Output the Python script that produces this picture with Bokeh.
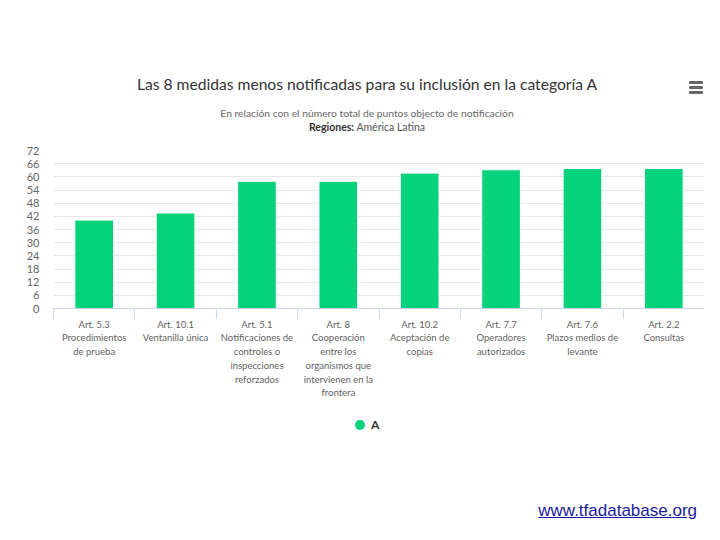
from bokeh.plotting import figure
from bokeh.models import Range1d, FixedTicker, ColumnDataSource, Div
from bokeh.layouts import column
from bokeh.embed import file_html
from bokeh.resources import INLINE

# ---- data ----
categories = [
    "Art. 5.3\nProcedimientos\nde prueba",
    "Art. 10.1\nVentanilla única",
    "Art. 5.1\nNotificaciones de\ncontroles o\ninspecciones\nreforzados",
    "Art. 8\nCooperación\nentre los\norganismos que\nintervienen en la\nfrontera",
    "Art. 10.2\nAceptación de\ncopias",
    "Art. 7.7\nOperadores\nautorizados",
    "Art. 7.6\nPlazos medios de\nlevante",
    "Art. 2.2\nConsultas",
]
values_A = [40.3, 43.5, 58.0, 58.0, 61.7, 63.2, 63.8, 63.8]
y_ticks = [0, 6, 12, 18, 24, 30, 36, 42, 48, 54, 60, 66, 72]
series_name = "A"

title_text = "Las 8 medidas menos notificadas para su inclusión en la categoría A"
subtitle_text = "En relación con el número total de puntos objecto de notificación"
region_label = "Regiones:"
region_value = "América Latina"
link_text = "www.tfadatabase.org"

FONT = "Lato"
GREEN = "#06d27c"

W = 704
TOP_H = 140
FIG_BOTTOM = 412
FIG_H = FIG_BOTTOM - TOP_H
BOT_H = 524 - FIG_BOTTOM
# frame in page coords: x 53..704, y 150..308
FL, FR, FT, FB = 53, 704, 150, 308
n = len(categories)
ymax = 72

# ---- header (titles + menu icon) ----
menu = "".join(
    f'<div style="position:absolute;left:689px;top:{t}px;width:14px;height:3px;'
    f'background:#666;border-radius:1px;"></div>' for t in (80.5, 85.5, 90.5))
header_html = f"""
<div style="position:relative;width:{W}px;height:{TOP_H}px;font-family:'{FONT}';">
  <div style="position:absolute;left:0;top:74px;width:{W}px;box-sizing:border-box;
       padding-left:30px;text-align:center;font-size:15.65px;line-height:20px;
       color:#333333;white-space:nowrap;">{title_text}</div>
  <div style="position:absolute;left:0;top:106px;width:{W}px;box-sizing:border-box;
       padding-left:30px;text-align:center;font-size:10.3px;line-height:14px;
       color:#666666;white-space:nowrap;">{subtitle_text}</div>
  <div style="position:absolute;left:0;top:120px;width:{W}px;box-sizing:border-box;
       padding-left:30px;text-align:center;font-size:10.5px;line-height:14px;
       color:#555555;white-space:nowrap;"><b style="color:#333333;">{region_label}</b> {region_value}</div>
  {menu}
</div>
"""
header = Div(text=header_html, width=W, height=TOP_H, margin=0)

# ---- chart ----
p = figure(width=W, height=FIG_H, output_backend="svg", toolbar_location=None,
           x_range=Range1d(0, n), y_range=Range1d(0, ymax),
           min_border_left=FL, min_border_right=W - FR,
           min_border_top=FT - TOP_H, min_border_bottom=FIG_BOTTOM - FB)
p.outline_line_color = None
p.background_fill_color = "white"
p.border_fill_color = "white"

centers = [i + 0.5 for i in range(n)]
src = ColumnDataSource(dict(x=centers, top=values_A))
bars = p.vbar(x="x", top="top", width=0.475, source=src, fill_color=GREEN,
              line_color="white", line_width=1)

# y axis
p.yaxis.ticker = FixedTicker(ticks=y_ticks)
p.yaxis.axis_line_color = None
p.yaxis.major_tick_line_color = None
p.yaxis.minor_tick_line_color = None
p.yaxis.major_label_standoff = 8
p.yaxis.major_label_text_font = FONT
p.yaxis.major_label_text_font_size = "11px"
p.yaxis.major_label_text_color = "#666666"
p.ygrid.ticker = FixedTicker(ticks=y_ticks)
p.ygrid.grid_line_color = "#e6e6e6"
p.xgrid.grid_line_color = None

# x axis
p.xaxis.ticker = FixedTicker(ticks=centers, minor_ticks=list(range(n + 1)))
p.xaxis.major_label_overrides = {c: lab for c, lab in zip(centers, categories)}
p.xaxis.axis_line_color = "#ccd6eb"
p.xaxis.major_tick_line_color = None
p.xaxis.major_tick_out = 0
p.xaxis.major_tick_in = 0
p.xaxis.minor_tick_line_color = "#ccd6eb"
p.xaxis.minor_tick_out = 10
p.xaxis.minor_tick_in = 0
p.xaxis.major_label_standoff = 0
p.xaxis.major_label_text_font = FONT
p.xaxis.major_label_text_font_size = "9.5px"
p.xaxis.major_label_text_color = "#5f5f5f"
p.xaxis.major_label_text_line_height = 1.25

# ---- footer (legend + link) ----
footer_html = f"""
<div style="position:relative;width:{W}px;height:{BOT_H}px;">
  <div style="position:absolute;left:355px;top:8px;width:10px;height:10px;
       border-radius:50%;background:{GREEN};"></div>
  <div style="position:absolute;left:371px;top:6px;font-family:'{FONT}';
       font-size:12px;line-height:14px;font-weight:bold;color:#333333;">{series_name}</div>
  <div style="position:absolute;right:7px;top:{511 - FIG_BOTTOM - 9}px;font-family:'Liberation Sans';
       font-size:17px;line-height:18px;color:#1a1aa0;text-decoration:underline;
       white-space:nowrap;">{link_text}</div>
</div>
"""
footer = Div(text=footer_html, width=W, height=BOT_H, margin=0)

layout = column(header, p, footer, spacing=0)
open("out.html", "w").write(file_html(layout, INLINE))
